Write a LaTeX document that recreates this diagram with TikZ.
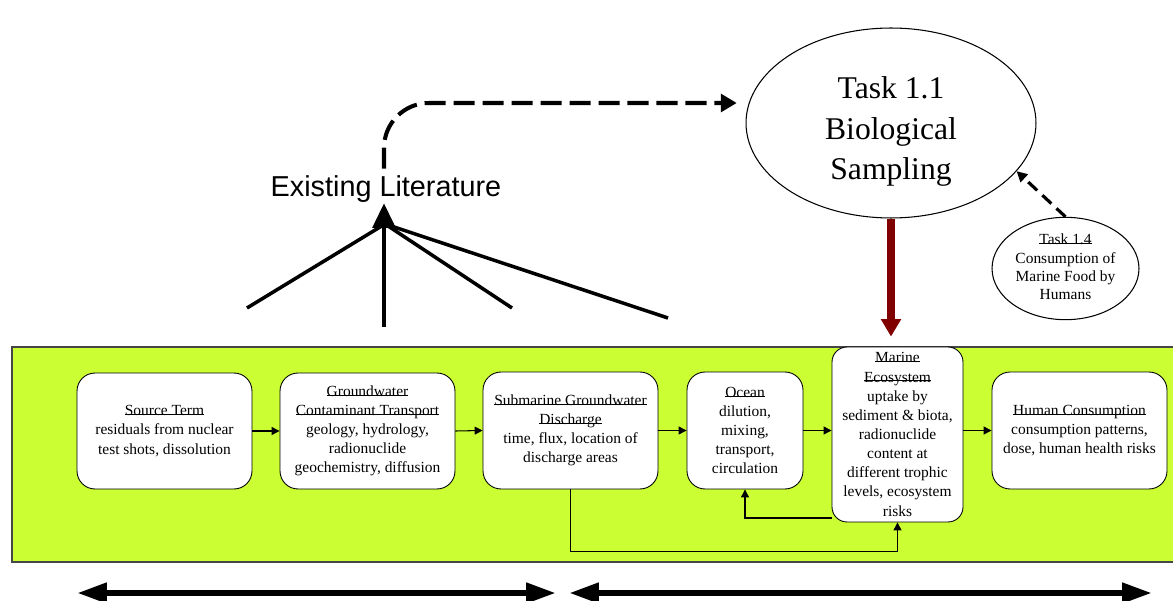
\documentclass[tikz,border=0pt]{standalone}
\usepackage{fontspec}
\setmainfont{Liberation Serif}
\newfontfamily\arialfont{Liberation Sans}
\usetikzlibrary{arrows.meta,shapes.geometric,calc}
\definecolor{panelgreen}{RGB}{204,255,51}
\definecolor{paneledge}{RGB}{70,70,70}
\definecolor{maroonred}{RGB}{128,0,0}
% heading with a rule drawn close to the baseline
\newcommand\hdline[1]{\sbox0{#1}\copy0\llap{\rule[0.5pt]{\wd0}{0.45pt}}}
\begin{document}
\begin{tikzpicture}[x=0.02cm,y=-0.02cm,
  stage/.style={draw=black,line width=0.5pt,fill=white,rounded corners=0.36cm,
    align=center,inner sep=1pt,font=\fontsize{8.8}{10.9}\selectfont},
  flow/.style={line width=0.6pt,-{Triangle[length=4.5pt,width=4.5pt]}},
  task/.style={draw=black,line width=0.6pt,fill=white,ellipse,inner sep=0pt},
  fan/.style={line width=2pt},
  span/.style={line width=3.6pt,{Triangle[length=17pt,width=11pt]}-{Triangle[length=17pt,width=11pt]}},
  litlink/.style={line width=2.3pt,dash pattern=on 12pt off 4.5pt,rounded corners=0.9cm,
    -{Triangle[length=9pt,width=10pt]}},
  tasklink/.style={line width=1.8pt,dash pattern=on 7pt off 4pt,-{Triangle[length=6pt,width=6pt]}},
  samplearrow/.style={draw=maroonred,line width=4pt,-{Triangle[length=10pt,width=11pt]}}]
\useasboundingbox (0,0) rectangle (1173,601);

% green panel holding the pathway
\draw[fill=panelgreen,draw=paneledge,line width=0.6pt] (12,347) rectangle (1190,562);

% pathway stages
\node[stage,minimum width=3.5cm,minimum height=2.32cm] (src) at (164.5,431)
  {\hdline{Source Term}\\residuals from nuclear\\test shots, dissolution};
\node[stage,minimum width=3.5cm,minimum height=2.32cm] (gw) at (367.5,431)
  {\hdline{Groundwater}\\\hdline{Contaminant Transport}\\geology, hydrology,\\radionuclide\\geochemistry, diffusion};
\node[stage,minimum width=3.5cm,minimum height=2.34cm] (sgd) at (570.5,430.5)
  {\hdline{Submarine Groundwater}\\\hdline{Discharge}\\time, flux, location of\\discharge areas};
\node[stage,minimum width=2.32cm,minimum height=2.34cm] (ocean) at (745,430.5)
  {\hdline{Ocean}\\dilution,\\mixing,\\transport,\\circulation};
\node[stage,minimum width=2.62cm,minimum height=3.5cm,rounded corners=0.3cm] (marine) at (897.5,434.5)
  {\hdline{Marine}\\\hdline{Ecosystem}\\uptake by\\sediment \& biota,\\radionuclide\\content at\\different trophic\\levels, ecosystem\\risks};
\node[stage,minimum width=3.5cm,minimum height=2.34cm] (human) at (1079.5,430.5)
  {\hdline{Human Consumption}\\consumption patterns,\\dose, human health risks};

% flow between stages
\draw[flow] (src.east) -- (gw.west);
\draw[flow] (gw.east) -- (sgd.west);
\draw[flow] (sgd.east) -- (ocean.west);
\draw[flow] (ocean.east) -- (ocean.east -| marine.west);
\draw[flow] (marine.east |- human.west) -- (human.west);
\coordinate (back) at (0,518);
\draw[flow] (marine.west |- back) -| (ocean.south);
\draw[flow] (sgd.south) -- ++(0,62) -| (marine.south);

% tasks
\node[task,minimum width=5.8cm,minimum height=3.8cm] (t11) at (891,123)
  {\raisebox{-9pt}[0pt][0pt]{\fontsize{18}{23}\selectfont
   \begin{tabular}{@{}c@{}}Task 1.1\\Biological\\Sampling\end{tabular}}};
\node[task,minimum width=2.94cm,minimum height=1.98cm] (t14) at (1065.5,268.5)
  {\fontsize{8.8}{10.3}\selectfont
   \begin{tabular}{@{}c@{}}\hdline{Task 1.4}\\Consumption of\\Marine Food by\\Humans\end{tabular}};

\draw[samplearrow,shorten >=0.2cm] (t11.south) -- (t11.south |- marine.north);
\draw[tasklink] (t14.north) -- (t11.-21);

% existing literature and the lines gathered into it
\node[font=\arialfont\fontsize{16.4}{19}\selectfont,inner sep=0pt,anchor=base] (lit) at (386,197)
  {Existing Literature};
\coordinate (hub) at (385,224);
\coordinate (fa) at (247,308);
\coordinate (fb) at (384,327);
\coordinate (fc) at (512,308);
\coordinate (fd) at (668,318);
\draw[fan] (fa) -- (hub);
\draw[fan] (fc) -- (hub);
\draw[fan] (fd) -- (hub);
\draw[fan,-{Triangle[length=14pt,width=13pt]}] (fb) -- (lit.south -| fb);
\draw[litlink,shorten >=0.24cm] ([yshift=4pt]lit.north -| fb) |- (t11.172);

% spans below the panel
\coordinate (la) at (77,593);
\coordinate (lb) at (556,593);
\coordinate (ra) at (569,593);
\coordinate (rb) at (1152,593);
\draw[span] (la) -- (lb);
\draw[span] (ra) -- (rb);
\end{tikzpicture}
\end{document}
